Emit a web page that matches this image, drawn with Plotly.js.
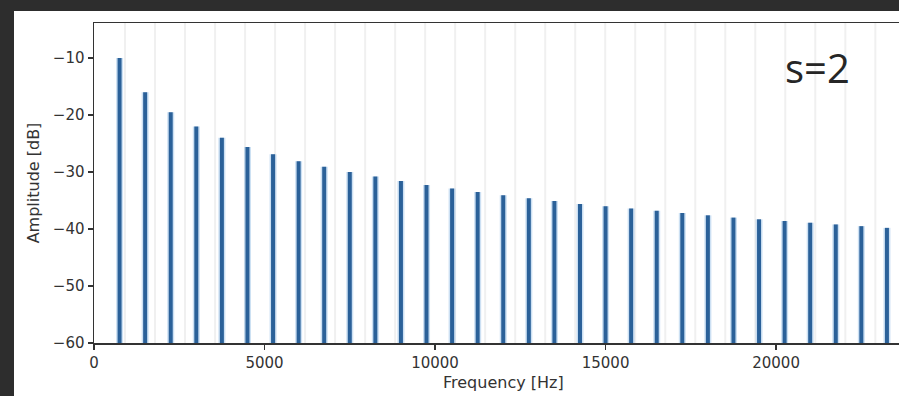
<!DOCTYPE html>
<html>
<head>
<meta charset="utf-8">
<script src="https://cdn.plot.ly/plotly-3.0.1.min.js"></script>
<style>
  html, body { margin: 0; padding: 0; background: #2d2d2d; width: 899px; height: 396px; overflow: hidden; }
  #chart { position: absolute; left: 14px; top: 11px; width: 885px; height: 385px; background: #fff; }
</style>
</head>
<body>
<div id="chart"></div>
<script>
// Harmonic frequencies (Hz) and their peak amplitudes (dB)
const harmonicFreqs = [750, 1500, 2250, 3000, 3750, 4500, 5250, 6000, 6750, 7500,
  8250, 9000, 9750, 10500, 11250, 12000, 12750, 13500, 14250, 15000,
  15750, 16500, 17250, 18000, 18750, 19500, 20250, 21000, 21750, 22500, 23250];
const peakAmps = [-10.0, -16.0, -19.5, -22.0, -24.0, -25.6, -26.9, -28.1, -29.1, -30.0,
  -30.8, -31.6, -32.3, -32.9, -33.5, -34.1, -34.6, -35.1, -35.6, -36.0,
  -36.4, -36.8, -37.2, -37.6, -38.0, -38.3, -38.6, -38.9, -39.2, -39.5, -39.8];
// Faint vertical marker lines (Hz)
const markerFreqs = [910, 1790, 2670, 3550, 4430, 5310, 6190, 7070, 7950, 8830,
  9710, 10590, 11470, 12350, 13230, 14110, 14990, 15870, 16750, 17630,
  18510, 19390, 20270, 21150, 22030, 22910];
const xTicks = [0, 5000, 10000, 15000, 20000];
const xTickText = ['0', '5000', '10000', '15000', '20000'];
const yTicks = [-60, -50, -40, -30, -20, -10];
const yTickText = ['\u221260', '\u221250', '\u221240', '\u221230', '\u221220', '\u221210'];
const floorDb = -60;

const sx = [], sy = [];
harmonicFreqs.forEach((f, i) => { sx.push(f, f, null); sy.push(floorDb, peakAmps[i], null); });

const halo = { x: sx, y: sy, type: 'scatter', mode: 'lines', hoverinfo: 'skip',
  line: { color: 'rgba(110,165,220,0.35)', width: 7 }, showlegend: false };
const core = { x: sx, y: sy, type: 'scatter', mode: 'lines',
  line: { color: '#2b6199', width: 4 }, showlegend: false };

const shapes = markerFreqs.map(f => ({
  type: 'line', xref: 'x', yref: 'paper', x0: f, x1: f, y0: 0, y1: 1,
  line: { color: '#f0f0f0', width: 2 }, layer: 'below'
}));

const tickFont = { family: 'DejaVu Sans', size: 15, color: '#333' };
const layout = {
  width: 885, height: 385,
  margin: { l: 80, r: 0, t: 12, b: 53 },
  paper_bgcolor: '#ffffff', plot_bgcolor: '#ffffff',
  showlegend: false,
  xaxis: {
    range: [0, 23604], tickmode: 'array', tickvals: xTicks, ticktext: xTickText,
    ticks: 'outside', ticklen: 5, tickwidth: 1.2, tickcolor: '#333',
    showline: true, linecolor: '#333', linewidth: 1.5, mirror: true,
    showgrid: false, zeroline: false, tickfont: tickFont
  },
  yaxis: {
    range: [-60, -3.86], tickmode: 'array', tickvals: yTicks, ticktext: yTickText,
    ticks: 'outside', ticklen: 5, tickwidth: 1.2, tickcolor: '#333',
    showline: true, linecolor: '#333', linewidth: 1.5,
    showgrid: false, zeroline: false, tickfont: tickFont,
    title: { text: 'Amplitude [dB]', font: { family: 'DejaVu Sans', size: 16, color: '#333' }, standoff: 9 }
  },
  shapes: shapes,
  annotations: [
    { xref: 'x', yref: 'paper', x: 12000, y: 0, yshift: -39, yanchor: 'middle', showarrow: false,
      text: 'Frequency [Hz]', font: { family: 'DejaVu Sans', size: 16, color: '#333' } },
    { xref: 'paper', yref: 'paper', x: 0.899, y: 0.862, xanchor: 'center', yanchor: 'middle', showarrow: false,
      text: 's=2', font: { family: 'Open Sans', size: 40, color: '#262626' } }
  ]
};

Plotly.newPlot('chart', [halo, core], layout, { displayModeBar: false, staticPlot: true });
</script>
</body>
</html>
